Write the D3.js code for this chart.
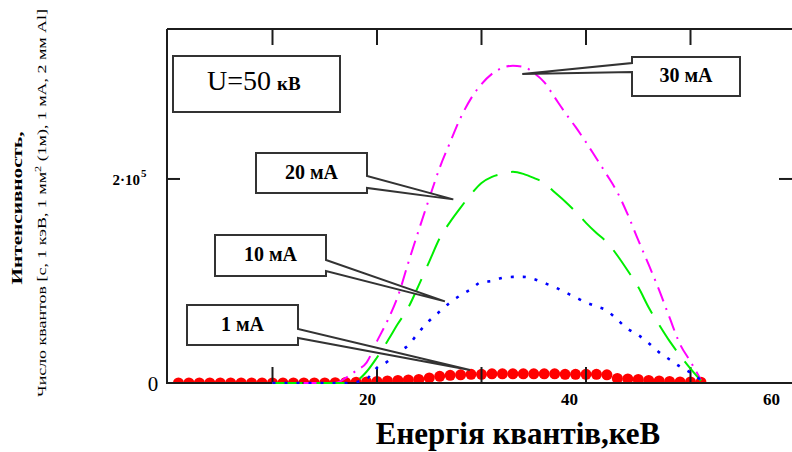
<!DOCTYPE html>
<html>
<head>
<meta charset="utf-8">
<script src="https://cdn.jsdelivr.net/npm/d3@7/dist/d3.min.js"></script>
<style>
  html, body { margin: 0; padding: 0; background: #ffffff; }
  svg { display: block; }
  text { font-family: "Liberation Serif", "Times New Roman", serif; fill: #000; }
</style>
</head>
<body>
<svg id="chart" width="792" height="452"></svg>
<script>
// ---------------- data ----------------
// photon energy grid, keV, for the three line spectra
const energy = [10,11,12,13,14,15,16,17,18,19,20,21,22,23,24,25,26,27,28,29,30,
                31,32,33,34,35,36,37,38,39,40,41,42,43,44,45,46,47,48,49,50,51];
// 30 mA (magenta, dash-dot)
const intensity30 = [0,0,0,0,0,0,0,5000,12000,20000,41000,61000,85000,118000,150000,181000,211000,236000,260000,279000,293000,
                     303000,309000,311000,310000,304000,295000,280000,265000,251000,236000,220000,204000,187000,165000,140000,116000,91000,64000,38000,21000,3000];
// 20 mA (green, dashed)
const intensity20 = [0,0,0,0,0,0,0,0,2000,11000,25000,41000,58000,74000,96000,119000,142000,158000,172000,185000,196000,
                     202000,205000,207000,205000,201000,196000,187000,178000,168000,157000,147000,138000,125000,110000,94000,74000,57000,41000,27000,14000,2000];
// 10 mA (blue, dotted)
const intensity10 = [0,0,0,0,0,0,0,0,1000,4000,15000,21000,30000,37000,50000,61000,70000,79000,86000,92000,99000,
                     100000,103000,104000,104000,102000,98000,94000,89000,84000,79000,75000,71000,62000,53000,47000,39000,30000,23000,16000,10000,3000];
// 1 mA (red dots)
const energy1 = [1,2,3,4,5,6,7,8,9,10,11,12,13,14,15,16,17,18,19,20,21,22,23,24,25,26,
                 27,28,29,30,31,32,33,34,35,36,37,38,39,40,41,42,43,44,45,46,47,48,49,50,51];
const intensity1 = [0,0,0,0,0,0,0,0,0,0,0,0,0,0,0,300,500,800,1000,1500,2000,2500,3000,3500,5000,6500,
                    7500,8000,8500,8500,9000,9000,9000,9000,9000,9000,9000,8500,8500,8500,8500,8000,4500,4000,3500,2500,2000,1500,1000,1000,800];

const xGridTicks = [10, 20, 30, 40, 50];      // tick marks on bottom and top edges
const xTickLabels = [20, 40, 60];             // numbers printed under the axis
const yGridTicks = [200000];                  // tick marks on left and right edges

const calloutLabels = ["30 мА", "20 мА", "10 мА", "1 мА"];
const calloutTipEnergy = [33.9, 27.3, 26.5, 28.9];
const calloutTipIntensity = [303000, 180000, 80000, 12700];

// ---------------- layout ----------------
const svg = d3.select("#chart");
const x = d3.scaleLinear().domain([0, 60]).range([168, 795]);
const y = d3.scaleLinear().domain([0, 347000]).range([383, 29]);
// the printed numbers sit on a slightly narrower scale than the tick marks in the original
const xLabelScale = d3.scaleLinear().domain([0, 60]).range([165, 771]);

const x0 = x(0), yBot = y(0), yTop = y.range()[1], xRight = 792;

const defs = svg.append("defs");
defs.append("clipPath").attr("id", "dotClip")
  .append("rect").attr("x", x0).attr("y", yTop).attr("width", xRight - x0).attr("height", yBot - yTop);
defs.append("clipPath").attr("id", "lineClip")
  .append("rect").attr("x", x0).attr("y", yTop).attr("width", xRight - x0).attr("height", yBot - yTop + 1);

// ---------------- 1 mA dots (under the axis line) ----------------
svg.append("g").attr("clip-path", "url(#dotClip)")
  .selectAll(".dot").data(energy1.map((e, i) => [e, intensity1[i]])).join("circle")
  .attr("cx", d => x(d[0])).attr("cy", d => y(d[1])).attr("r", 5.5).attr("fill", "#ff0000");

// ---------------- frame and ticks ----------------
const frame = svg.append("g").attr("stroke", "#1c1c1c").attr("stroke-width", 2).attr("fill", "none");
frame.append("line").attr("x1", x0 - 1).attr("x2", x0 - 1).attr("y1", yTop).attr("y2", yBot + 1);
frame.append("line").attr("x1", x0 - 1).attr("x2", xRight).attr("y1", yTop).attr("y2", yTop);
frame.append("line").attr("x1", x0 - 1).attr("x2", xRight).attr("y1", yBot).attr("y2", yBot);

const ticks = svg.append("g").attr("stroke", "#1c1c1c").attr("stroke-width", 2);
ticks.selectAll(".tb").data(xGridTicks).join("line")
  .attr("x1", d => x(d)).attr("x2", d => x(d)).attr("y1", yBot).attr("y2", yBot - 16);
ticks.selectAll(".tt").data(xGridTicks).join("line")
  .attr("x1", d => x(d)).attr("x2", d => x(d)).attr("y1", yTop).attr("y2", yTop + 16);
ticks.selectAll(".tl").data(yGridTicks).join("line")
  .attr("x1", x0).attr("x2", x0 + 12).attr("y1", d => y(d)).attr("y2", d => y(d));
ticks.selectAll(".tr").data(yGridTicks).join("line")
  .attr("x1", xRight - 13).attr("x2", xRight).attr("y1", d => y(d)).attr("y2", d => y(d));

// x labels through a d3 axis
const xAxis = svg.append("g").attr("transform", `translate(0,${yBot + 10})`)
  .call(d3.axisBottom(xLabelScale).tickValues(xTickLabels).tickSize(0).tickPadding(0).tickFormat(d3.format("d")));
xAxis.select(".domain").remove();
xAxis.selectAll("text").attr("font-family", "Liberation Serif").attr("font-size", 17).attr("font-weight", "bold").attr("fill", "#000");

// y labels
const yl = svg.append("g");
yl.selectAll(".yt").data(yGridTicks).join("text")
  .attr("x", 140).attr("y", d => y(d) + 6).attr("text-anchor", "end")
  .attr("font-size", 15).attr("font-weight", "bold").text("2·10");
yl.selectAll(".ye").data(yGridTicks).join("text")
  .attr("x", 141).attr("y", d => y(d) - 2)
  .attr("font-size", 11).attr("font-weight", "bold").text("5");
yl.append("text").attr("x", 153).attr("y", yBot + 8).attr("text-anchor", "middle")
  .attr("font-size", 21).text("0");

// axis titles
svg.append("text").attr("x", 518).attr("y", 444).attr("text-anchor", "middle")
  .attr("font-size", 31).attr("font-weight", "bold").text("Енергія квантів,кеВ");

svg.append("text").attr("transform", "translate(22,208) rotate(-90)").attr("text-anchor", "middle")
  .attr("font-size", 15).attr("font-weight", "bold")
  .attr("textLength", 153).attr("lengthAdjust", "spacingAndGlyphs").text("Интенсивность,");
const t2 = svg.append("text").attr("transform", "translate(46,203) rotate(-90)").attr("text-anchor", "middle")
  .attr("font-size", 13).attr("textLength", 388).attr("lengthAdjust", "spacingAndGlyphs");
t2.append("tspan").text("Число квантов [с, 1 кэВ, 1 мм");
t2.append("tspan").attr("dy", -5).attr("font-size", 9).text("2");
t2.append("tspan").attr("dy", 5).text(" (1м), 1 мА, 2 мм Al]");

// ---------------- spectra lines ----------------
const plot = svg.append("g").attr("clip-path", "url(#lineClip)");
const line = d3.line().x(d => x(d[0])).y(d => y(d[1])).curve(d3.curveMonotoneX);

const seriesList = [
  { values: intensity30, color: "#ff00ff", dash: "15,7,2,7", width: 2 },
  { values: intensity20, color: "#00ee00", dash: "30,14", width: 2 },
  { values: intensity10, color: "#0000ff", dash: "3,9", width: 2.6 }
];
seriesList.forEach(s => {
  plot.append("path").datum(energy.map((e, i) => [e, s.values[i]]))
    .attr("d", line).attr("fill", "none").attr("stroke", s.color)
    .attr("stroke-width", s.width).attr("stroke-dasharray", s.dash);
});

// ---------------- annotation boxes ----------------
const boxes = [
  { bx: 632, by: 57, bw: 108, bh: 39, side: "left",  b0: 63,  b1: 72 },
  { bx: 256, by: 153, bw: 111, bh: 40, side: "right", b0: 176, b1: 188 },
  { bx: 215, by: 235, bw: 111, bh: 41, side: "right", b0: 260, b1: 271 },
  { bx: 187, by: 305, bw: 111, bh: 40, side: "right", b0: 329, b1: 338 }
];
const ann = svg.append("g");
boxes.forEach((b, i) => {
  const tx = x(calloutTipEnergy[i]), ty = y(calloutTipIntensity[i]);
  let p;
  if (b.side === "right") {
    p = `M${b.bx},${b.by} H${b.bx + b.bw} V${b.b0} L${tx},${ty} L${b.bx + b.bw},${b.b1} V${b.by + b.bh} H${b.bx} Z`;
  } else {
    p = `M${b.bx},${b.by} H${b.bx + b.bw} V${b.by + b.bh} H${b.bx} V${b.b1} L${tx},${ty} L${b.bx},${b.b0} Z`;
  }
  ann.append("path").attr("d", p).attr("fill", "#fff").attr("stroke", "#333").attr("stroke-width", 2)
    .attr("stroke-linejoin", "miter");
  ann.append("text").attr("x", b.bx + b.bw / 2).attr("y", b.by + b.bh / 2 + 5.5).attr("text-anchor", "middle")
    .attr("font-size", 20).attr("font-weight", "bold").text(calloutLabels[i]);
});

// U=50 кВ box
ann.append("rect").attr("x", 173).attr("y", 56).attr("width", 167).attr("height", 56)
  .attr("fill", "#fff").attr("stroke", "#333").attr("stroke-width", 2);
const ut = ann.append("text").attr("x", 207).attr("y", 90).attr("font-size", 28);
ut.append("tspan").text("U=50");
ut.append("tspan").attr("font-size", 19).attr("font-weight", "bold").attr("dx", 6).text("кВ");
</script>
</body>
</html>
